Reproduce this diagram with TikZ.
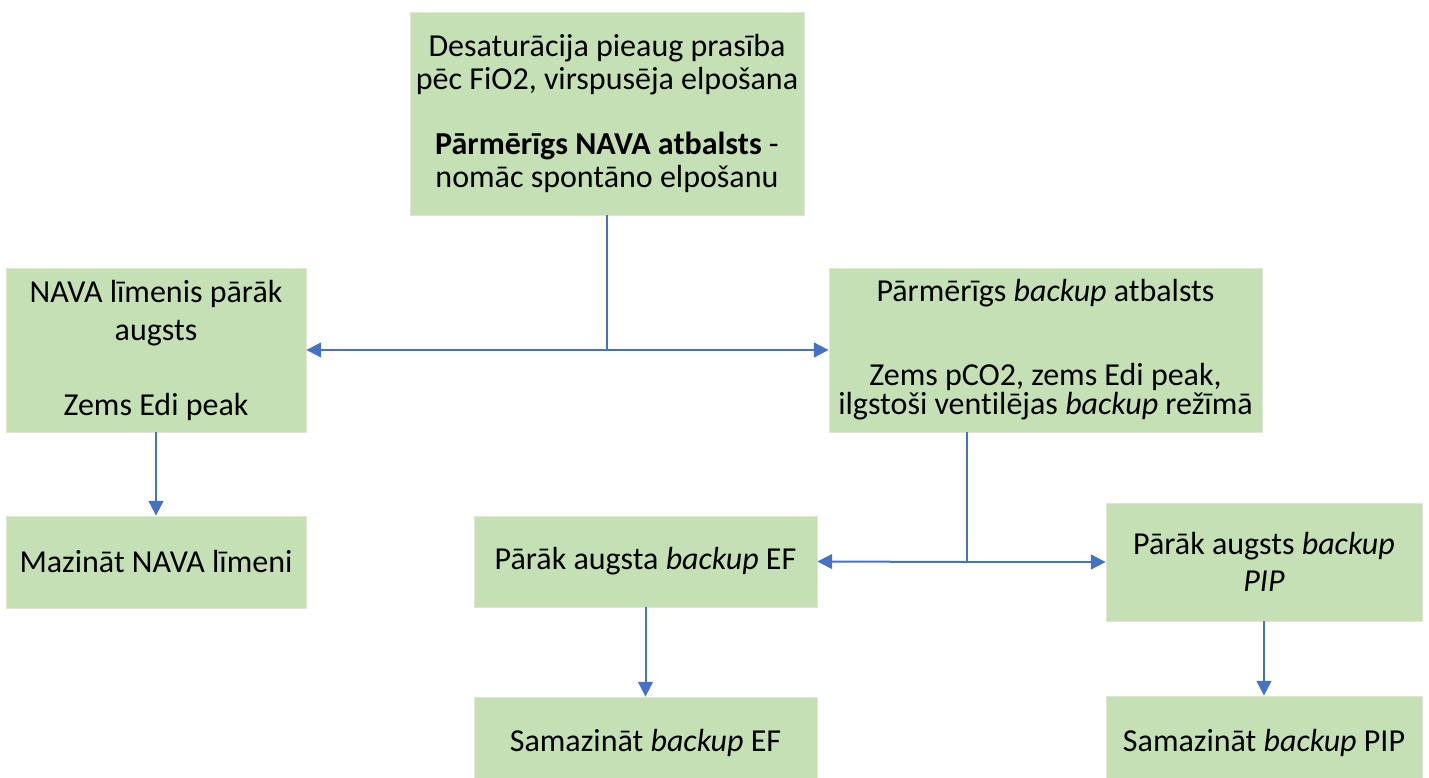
\documentclass[tikz,border=0pt]{standalone}
\usepackage{fontspec}
\setmainfont{Carlito}[Ligatures=NoCommon]
\usetikzlibrary{arrows.meta,calc}
\definecolor{boxfill}{HTML}{C5E0B4}
\definecolor{boxedge}{HTML}{DCE8D4}
\definecolor{linkblue}{HTML}{4472C4}
\tikzset{
  stepbox/.style={rectangle, fill=boxfill, draw=boxedge, line width=0.6pt,
    inner sep=0pt, align=center, font=\fontsize{24}{24.4}\selectfont},
  lead/.style={font=\fontsize{24}{#1}\selectfont},
  link/.style={draw=linkblue, line width=1.5pt},
  arr/.style={link, -{Triangle[length=11pt,width=11pt]}}
}
\begin{document}
\begin{tikzpicture}[x=0.75pt,y=-0.75pt]
  \clip (0,0) rectangle (1429,778);
  \useasboundingbox (0,0) rectangle (1429,778);

  % boxes
  \node[stepbox, lead=24.4pt, minimum width=295.5pt, minimum height=152.25pt] (top) at (607,113.5)
    {Desaturācija pieaug prasība\\pēc FiO2, virspusēja elpošana\\[24.35pt]
     \textbf{Pārmērīgs NAVA atbalsts} -\\nomāc spontāno elpošanu};
  \node[stepbox, lead=28.5pt, minimum width=225pt, minimum height=123pt] (nava) at (156,350)
    {NAVA līmenis pārāk\\augsts\\[27.75pt]Zems Edi peak};
  \node[stepbox, lead=21.75pt, minimum width=324.75pt, minimum height=123pt] (backup) at (1045.5,350)
    {Pārmērīgs \textit{backup} atbalsts\\[41.25pt]
     Zems pCO2, zems Edi peak,\\ilgstoši ventilējas \textit{backup} režīmā};
  \node[stepbox, minimum width=225pt, minimum height=69pt] (mazinat) at (156,562)
    {Mazināt NAVA līmeni};
  \node[stepbox, minimum width=257.25pt, minimum height=68.25pt] (ef) at (645.5,561.5)
    {Pārāk augsta \textit{backup} EF};
  \node[stepbox, lead=27.75pt, minimum width=237pt, minimum height=88.5pt] (pip) at (1264,562)
    {Pārāk augsts \textit{backup}\\\textit{PIP}};
  \node[stepbox, minimum width=257.25pt, minimum height=68.25pt] (samef) at (645.5,742.5)
    {Samazināt \textit{backup} EF};
  \node[stepbox, minimum width=237pt, minimum height=70.5pt] (sampip) at (1264,743)
    {Samazināt \textit{backup} PIP};

  % junctions
  \coordinate (j1) at (607,350);
  \coordinate (j2) at (967,562);

  % connectors
  \draw[link] (top.south) -- (j1);
  \draw[arr] (j1) -- (nava.east);
  \draw[arr] (j1) -- (backup.west);
  \draw[arr] (nava.south) -- (mazinat.north);
  \draw[link] (j2 |- backup.south) -- (j2);
  \draw[arr] (j2) -- (ef.east);
  \draw[arr] (j2) -- (pip.west);
  \draw[arr] (ef.south -| samef.north) -- (samef.north);
  \draw[arr] (pip.south) -- (sampip.north);
\end{tikzpicture}
\end{document}
